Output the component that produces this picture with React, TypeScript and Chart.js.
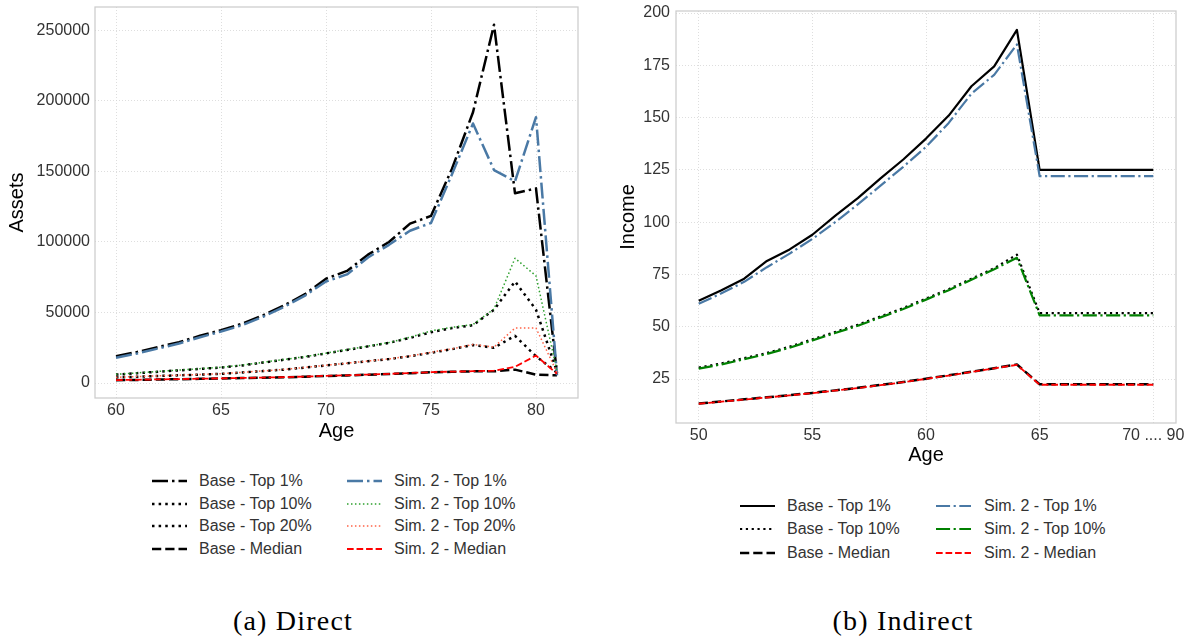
import React, { useEffect, useRef } from "react";
import { Chart, registerables } from "chart.js";

Chart.register(...registerables);

// ---------- Data: (a) Direct ----------
const agesDirect = [60, 61, 62, 63, 64, 65, 66, 67, 68, 69, 70, 71, 72, 73, 74, 75, 76, 77, 78, 79, 80, 81];
const baseTop1 = [19000, 22000, 25500, 29000, 33500, 37500, 42000, 48000, 55000, 63000, 74000, 79500, 91000, 100000, 113000, 118500, 152000, 192000, 254000, 134500, 138000, 7000];
const baseTop10 = [6000, 7000, 8000, 9000, 10000, 11000, 12500, 14500, 16500, 18500, 21000, 23500, 26000, 28500, 32000, 36000, 39000, 41000, 52000, 72000, 52000, 8000];
const baseTop20 = [4000, 4500, 5000, 5500, 6000, 6500, 7500, 8500, 9500, 11000, 12500, 14000, 15500, 17000, 19000, 21500, 24000, 27000, 25000, 33500, 19000, 7500];
const baseMedian = [2000, 2200, 2500, 2700, 3000, 3200, 3500, 3800, 4100, 4500, 5000, 5400, 5900, 6400, 7000, 7600, 8000, 8300, 8300, 9500, 6000, 5500];
const simTop1 = [18000, 21000, 24500, 28000, 32500, 36500, 41000, 47000, 54000, 62000, 72000, 77000, 89000, 98000, 108000, 113500, 148000, 184000, 151000, 143000, 188500, 5500];
const simTop10 = [6200, 7200, 8200, 9200, 10200, 11200, 12700, 14700, 16700, 18700, 21200, 23700, 26200, 28700, 32500, 37000, 39500, 41500, 52500, 88500, 76000, 8500];
const simTop20 = [4100, 4600, 5100, 5600, 6100, 6600, 7600, 8600, 9600, 11100, 12600, 14100, 15600, 17100, 19200, 21800, 24300, 27300, 25500, 39000, 39000, 7500];
const simMedian = [2100, 2300, 2600, 2800, 3100, 3300, 3600, 3900, 4200, 4600, 5100, 5500, 6000, 6500, 7100, 7700, 8100, 8400, 8800, 11500, 19500, 6500];
const xTicksDirect = [60, 65, 70, 75, 80];
const yTicksDirect = [0, 50000, 100000, 150000, 200000, 250000];

// ---------- Data: (b) Indirect ----------
const agesIndirect = [50, 51, 52, 53, 54, 55, 56, 57, 58, 59, 60, 61, 62, 63, 64, 65, 66, 67, 68, 69, 70];
const baseTop1I = [62.5, 67.5, 73, 81.5, 87, 94, 103, 111.5, 121, 130, 140, 151, 165, 174.5, 192, 125, 125, 125, 125, 125, 125];
const simTop1I = [61, 66, 71.5, 78.5, 85, 92, 100, 108.5, 117.5, 126.5, 136, 147.5, 161.5, 170.5, 185, 122, 122, 122, 122, 122, 122];
const baseTop10I = [30.5, 32.5, 35, 37.5, 40.5, 44, 47.5, 51, 55, 59, 63.5, 68, 73, 78, 84.5, 56.5, 56.5, 56.5, 56.5, 56.5, 56.5];
const simTop10I = [30, 32, 34.5, 37, 40, 43.5, 47, 50.5, 54.5, 58.5, 63, 67.5, 72.5, 77.5, 83, 55.5, 55.5, 55.5, 55.5, 55.5, 55.5];
const baseMedianI = [13.3, 14.3, 15.3, 16.3, 17.3, 18.4, 19.6, 20.8, 22.2, 23.6, 25.2, 26.8, 28.5, 30.2, 32, 22.5, 22.5, 22.5, 22.5, 22.5, 22.5];
const simMedianI = [13.2, 14.2, 15.2, 16.2, 17.2, 18.3, 19.5, 20.7, 22.1, 23.5, 25.1, 26.7, 28.4, 30.1, 31.8, 22.3, 22.3, 22.3, 22.3, 22.3, 22.3];
const xTicksIndirect = [50, 55, 60, 65, 70];
const xTickLabelsIndirect = ["50", "55", "60", "65", "70 .... 90"];
const yTicksIndirect = [25, 50, 75, 100, 125, 150, 175, 200];

// ---------- Styles ----------
type Style = { label: string; color: string; width: number; dash: number[] };
const DASHDOT = (w: number) => [6.4 * w, 1.6 * w, 1 * w, 1.6 * w];
const DOTTED = (w: number) => [1 * w, 1.65 * w];
const DASHED = (w: number) => [3.7 * w, 1.6 * w];

const directStyles: Style[] = [
  { label: "Base - Top 1%", color: "#000000", width: 2.5, dash: DASHDOT(2.5) },
  { label: "Base - Top 10%", color: "#000000", width: 2.5, dash: DOTTED(2.5) },
  { label: "Base - Top 20%", color: "#000000", width: 2.5, dash: DOTTED(2.5) },
  { label: "Base - Median", color: "#000000", width: 2.5, dash: DASHED(2.5) },
  { label: "Sim. 2 - Top 1%", color: "#4a79a5", width: 2.5, dash: DASHDOT(2.5) },
  { label: "Sim. 2 - Top 10%", color: "#2ca02c", width: 1.5, dash: DOTTED(1.5) },
  { label: "Sim. 2 - Top 20%", color: "#ff6347", width: 1.5, dash: DOTTED(1.5) },
  { label: "Sim. 2 - Median", color: "#ff0000", width: 1.8, dash: DASHED(1.8) },
];
const directData = [baseTop1, baseTop10, baseTop20, baseMedian, simTop1, simTop10, simTop20, simMedian];

const indirectStyles: Style[] = [
  { label: "Base - Top 1%", color: "#000000", width: 2.2, dash: [] },
  { label: "Base - Top 10%", color: "#000000", width: 2.2, dash: DOTTED(2.2) },
  { label: "Base - Median", color: "#000000", width: 2.5, dash: DASHED(2.5) },
  { label: "Sim. 2 - Top 1%", color: "#4a79a5", width: 2.2, dash: DASHDOT(2.2) },
  { label: "Sim. 2 - Top 10%", color: "#008000", width: 2.2, dash: DASHDOT(2.2) },
  { label: "Sim. 2 - Median", color: "#ff0000", width: 1.8, dash: DASHED(1.8) },
];
const indirectData = [baseTop1I, baseTop10I, baseMedianI, simTop1I, simTop10I, simMedianI];

const FONT = "'Liberation Sans', Arial, 'DejaVu Sans', sans-serif";
const TICK_COLOR = "#333333";

const framePlugin = {
  id: "frame",
  afterDatasetsDraw(chart: any) {
    const { ctx, chartArea } = chart;
    ctx.save();
    ctx.strokeStyle = "#cccccc";
    ctx.lineWidth = 1.25;
    ctx.setLineDash([]);
    ctx.strokeRect(chartArea.left, chartArea.top, chartArea.right - chartArea.left, chartArea.bottom - chartArea.top);
    ctx.restore();
  },
};

type Cfg = {
  ages: number[];
  data: number[][];
  styles: Style[];
  xMin: number; xMax: number; xTicks: number[]; xLabels?: string[];
  yMin: number; yMax: number; yTicks: number[];
  yTitle: string;
  yWidth: number; xHeight: number;
  padTop: number; padRight: number;
  yTitlePad: number; yTickPad: number; xTitlePad: number;
};

function makeChart(canvas: HTMLCanvasElement, c: Cfg) {
  const n = c.styles.length;
  const datasets = c.styles.map((s, i) => ({
    label: s.label,
    data: c.ages.map((a, k) => ({ x: a, y: c.data[i][k] })),
    borderColor: s.color,
    backgroundColor: s.color,
    borderWidth: s.width,
    borderDash: s.dash,
    borderCapStyle: "butt" as const,
    borderJoinStyle: "round" as const,
    pointRadius: 0,
    tension: 0,
    fill: false,
    order: n - i,
  }));
  return new Chart(canvas, {
    type: "line",
    data: { datasets },
    plugins: [framePlugin],
    options: {
      responsive: false,
      animation: false,
      devicePixelRatio: 1,
      layout: { padding: { top: c.padTop, right: c.padRight, left: 0, bottom: 0 } },
      plugins: { legend: { display: false }, tooltip: { enabled: false } },
      scales: {
        x: {
          type: "linear",
          min: c.xMin,
          max: c.xMax,
          afterBuildTicks: (scale: any) => {
            scale.ticks = c.xTicks.map((v) => ({ value: v }));
          },
          afterFit: (scale: any) => {
            scale.height = c.xHeight;
            scale.paddingLeft = 0;
            scale.paddingRight = 0;
          },
          ticks: {
            color: TICK_COLOR,
            font: { family: FONT, size: 16 },
            padding: 3,
            maxRotation: 0,
            autoSkip: false,
            callback: (v: any) => {
              const idx = c.xTicks.indexOf(Number(v));
              if (c.xLabels && idx >= 0) return c.xLabels[idx];
              return String(v);
            },
          },
          grid: { color: "#d6d6d6", lineWidth: 0.8, drawTicks: false },
          border: { display: false, dash: [1, 2] },
          title: {
            display: true,
            text: "Age",
            color: "#000000",
            font: { family: FONT, size: 20 },
            padding: { top: 0, bottom: c.xTitlePad },
          },
        },
        y: {
          type: "linear",
          min: c.yMin,
          max: c.yMax,
          afterBuildTicks: (scale: any) => {
            scale.ticks = c.yTicks.map((v) => ({ value: v }));
          },
          afterFit: (scale: any) => {
            scale.width = c.yWidth;
            scale.paddingTop = 0;
            scale.paddingBottom = 0;
          },
          ticks: {
            color: TICK_COLOR,
            font: { family: FONT, size: 16 },
            padding: c.yTickPad,
            autoSkip: false,
            callback: (v: any) => String(v),
          },
          grid: { color: "#d6d6d6", lineWidth: 0.8, drawTicks: false },
          border: { display: false, dash: [1, 2] },
          title: {
            display: true,
            text: c.yTitle,
            color: "#000000",
            font: { family: FONT, size: 20 },
            padding: { top: c.yTitlePad, bottom: 0 },
          },
        },
      },
    } as any,
  });
}

function ChartCanvas(props: { cfg: Cfg; left: number; width: number; height: number }) {
  const ref = useRef<HTMLCanvasElement | null>(null);
  useEffect(() => {
    if (!ref.current) return;
    const ch = makeChart(ref.current, props.cfg);
    return () => ch.destroy();
  }, []);
  return (
    <canvas
      ref={ref}
      width={props.width}
      height={props.height}
      style={{ position: "absolute", left: props.left, top: 0, width: props.width, height: props.height }}
    />
  );
}

function Swatch(props: { s: Style }) {
  const { s } = props;
  return (
    <svg width={36} height={10} style={{ display: "block" }}>
      <line
        x1={0}
        y1={5}
        x2={35}
        y2={5}
        stroke={s.color}
        strokeWidth={s.width}
        strokeDasharray={s.dash.length ? s.dash.join(" ") : undefined}
      />
    </svg>
  );
}

function Legend(props: { items: Style[]; rows: number; top: number; cols: { swatchX: number; textX: number }[]; rowH: number }) {
  const { items, rows, top, cols, rowH } = props;
  return (
    <>
      {items.map((s, i) => {
        const col = Math.floor(i / rows);
        const row = i % rows;
        const cy = top + row * rowH;
        return (
          <React.Fragment key={i}>
            <div style={{ position: "absolute", left: cols[col].swatchX, top: cy - 5 }}>
              <Swatch s={s} />
            </div>
            <div
              style={{
                position: "absolute",
                left: cols[col].textX,
                top: cy - 10,
                height: 20,
                lineHeight: "20px",
                fontFamily: FONT,
                fontSize: 16,
                color: TICK_COLOR,
                whiteSpace: "nowrap",
              }}
            >
              {s.label}
            </div>
          </React.Fragment>
        );
      })}
    </>
  );
}

const directCfg: Cfg = {
  ages: agesDirect,
  data: directData,
  styles: directStyles,
  xMin: 59, xMax: 82, xTicks: xTicksDirect,
  yMin: -10600, yMax: 266600, yTicks: yTicksDirect,
  yTitle: "Assets",
  yWidth: 95, xHeight: 47,
  padTop: 7, padRight: 12,
  yTitlePad: 5.5, yTickPad: 5, xTitlePad: 2,
};

const indirectCfg: Cfg = {
  ages: agesIndirect,
  data: indirectData,
  styles: indirectStyles,
  xMin: 49, xMax: 71, xTicks: xTicksIndirect, xLabels: xTickLabelsIndirect,
  yMin: 4, yMax: 201, yTicks: yTicksIndirect,
  yTitle: "Income",
  yWidth: 86, xHeight: 47,
  padTop: 11, padRight: 16,
  yTitlePad: 26, yTickPad: 6, xTitlePad: 3,
};

export default function App() {
  return (
    <div style={{ position: "absolute", left: 0, top: 0, width: 1192, height: 638, background: "#ffffff", overflow: "hidden" }}>
      <ChartCanvas cfg={directCfg} left={0} width={590} height={445} />
      <div style={{ position: "absolute", left: 590, top: 0, width: 602, height: 470 }}>
        <ChartCanvas cfg={indirectCfg} left={0} width={602} height={470} />
      </div>
      <Legend
        items={directStyles}
        rows={4}
        top={481}
        rowH={22.7}
        cols={[{ swatchX: 152, textX: 199 }, { swatchX: 347, textX: 394 }]}
      />
      <Legend
        items={indirectStyles}
        rows={3}
        top={506}
        rowH={23.3}
        cols={[{ swatchX: 740, textX: 787 }, { swatchX: 936, textX: 984 }]}
      />
      <div
        style={{
          position: "absolute",
          left: 193,
          width: 200,
          top: 604,
          textAlign: "center",
          fontFamily: "'Liberation Serif', 'Times New Roman', serif",
          fontSize: 28,
          letterSpacing: 1.2,
          lineHeight: "34px",
          color: "#000",
        }}
      >
        (a) Direct
      </div>
      <div
        style={{
          position: "absolute",
          left: 803,
          width: 200,
          top: 604,
          textAlign: "center",
          fontFamily: "'Liberation Serif', 'Times New Roman', serif",
          fontSize: 28,
          letterSpacing: 1.2,
          lineHeight: "34px",
          color: "#000",
        }}
      >
        (b) Indirect
      </div>
    </div>
  );
}
